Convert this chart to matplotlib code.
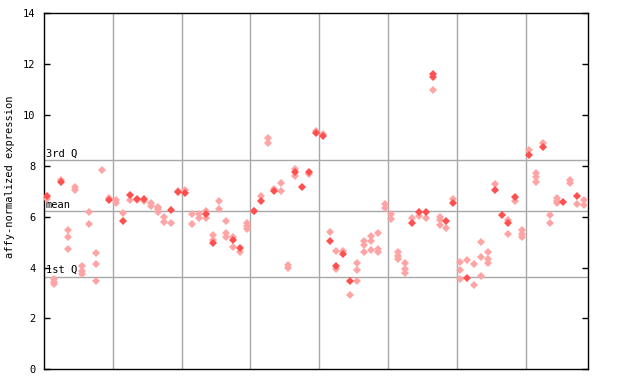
import matplotlib
matplotlib.use("Agg")
import matplotlib.pyplot as plt
import matplotlib.transforms as mtransforms

# ---- data (sample index, value) ----
solid_samples = [0, 2, 9, 11, 12, 13, 14, 18, 19, 20, 23, 24, 27, 28, 30, 31, 33, 36, 37, 38, 39, 40,
                 41, 42, 43, 44, 53, 54, 55, 56, 56, 58, 59, 61, 65, 66, 67, 68, 70, 72, 75, 77]
solid_values = [6.8, 7.38, 6.65, 5.84, 6.84, 6.71, 6.7, 6.25, 6.96, 6.92, 6.1, 4.96, 5.1, 4.76, 6.22, 6.63, 7.0, 7.75, 7.18, 7.77, 9.28, 9.16,
                5.06, 4.05, 4.53, 3.48, 5.74, 6.2, 6.2, 11.6, 11.5, 5.84, 6.55, 3.6, 7.05, 6.08, 5.75, 6.79, 8.44, 8.73, 6.59, 6.83]

light_samples = [0, 1, 1, 1, 2, 3, 3, 3, 4, 4, 5, 5, 5, 6, 6, 7, 7, 7, 8, 9, 10, 10, 11, 12, 13, 14, 15, 15,
                 16, 16, 16, 17, 17, 18, 19, 20, 21, 21, 22, 22, 23, 23, 24, 24, 25, 25, 26, 26, 26, 27, 27,
                 28, 29, 29, 29, 30, 31, 32, 32, 33, 34, 34, 35, 35, 36, 36, 38, 39, 40, 41, 42, 42, 43, 44,
                 45, 45, 45, 46, 46, 46, 47, 47, 47, 48, 48, 48, 49, 49, 50, 50, 51, 51, 51, 52, 52, 52,
                 53, 54, 55, 56, 57, 57, 57, 58, 59, 60, 60, 60, 61, 62, 62, 63, 63, 63, 64, 64, 64, 65,
                 67, 67, 68, 69, 69, 69, 70, 71, 71, 71, 72, 73, 73, 74, 74, 74, 76, 76, 77, 78, 78]
light_values = [6.7, 3.55, 3.45, 3.35, 7.45, 5.48, 5.19, 4.73, 7.15, 7.05, 4.07, 3.85, 3.75, 6.19, 5.71, 4.56, 4.14, 3.47, 7.83, 6.75, 6.65, 6.55, 6.13, 6.66, 6.65, 6.6, 6.55, 6.42,
                6.39, 6.29, 6.19, 5.99, 5.8, 5.74, 7.0, 7.05, 6.12, 5.7, 6.1, 5.94, 6.24, 5.94, 5.28, 5.08, 6.61, 6.32, 5.82, 5.35, 5.19, 5.2, 4.8,
                4.62, 5.74, 5.62, 5.5, 6.22, 6.8, 9.08, 8.89, 7.08, 7.31, 7.02, 4.12, 4.0, 7.88, 7.6, 7.68, 9.36, 9.24, 5.39, 4.64, 3.95, 4.64, 2.91,
                4.17, 3.89, 3.46, 5.03, 4.88, 4.6, 5.24, 5.03, 4.68, 5.35, 4.72, 4.62, 6.49, 6.35, 6.1, 5.9, 4.6, 4.45, 4.32, 4.17, 3.95, 3.77,
                5.94, 6.03, 5.94, 11.0, 6.0, 5.87, 5.67, 5.54, 6.7, 4.21, 3.89, 3.54, 4.3, 4.13, 3.31, 4.99, 4.4, 3.67, 4.6, 4.34, 4.19, 7.29,
                5.87, 5.34, 6.61, 5.48, 5.31, 5.19, 8.62, 7.71, 7.55, 7.38, 8.89, 6.06, 5.74, 6.72, 6.62, 6.53, 7.44, 7.31, 6.5, 6.66, 6.47]

n_samples = 79
group_size = 10
quartile_names = ["3rd Q", "mean", "1st Q"]
quartile_values = [8.22, 6.22, 3.64]
y_ticks = [0, 2, 4, 6, 8, 10, 12, 14]
y_label = "affy-normalized expression"

RED = "#ff5050"
LIGHT = "#ffa4a4"
GRID = "#a8a8a8"
MONO = "DejaVu Sans Mono"

fig = plt.figure(figsize=(6.4, 3.84), dpi=100)
ax = fig.add_axes([44 / 640, (384 - 369.3) / 384, (587.5 - 44) / 640, (369.3 - 13.3) / 384])

ax.set_xlim(0, n_samples)
ax.set_ylim(0, 14)

for g in range(group_size, n_samples, group_size):
    ax.axvline(g, color=GRID, lw=1.0, zorder=1)
for qv in quartile_values:
    ax.axhline(qv, color=GRID, lw=1.0, zorder=1)

trans = mtransforms.blended_transform_factory(ax.transAxes, ax.transData)
for name, qv in zip(quartile_names, quartile_values):
    ax.text(0.003, qv + 0.06, name, transform=trans, ha="left", va="bottom",
            fontsize=7.5, family=MONO, color="black", zorder=2)

ax.plot([s + 0.5 for s in light_samples], light_values, ls="none", marker="D",
        markersize=3.6, color=LIGHT, markeredgewidth=0, zorder=3)
ax.plot([s + 0.5 for s in solid_samples], solid_values, ls="none", marker="D",
        markersize=3.6, color=RED, markeredgewidth=0, zorder=4)

ax.set_xticks([])
ax.set_yticks(y_ticks)
ax.set_yticklabels([str(t) for t in y_ticks], family=MONO, fontsize=7.5)
ax.tick_params(axis="y", direction="in", length=4, width=1, right=True, pad=6)
for sp in ax.spines.values():
    sp.set_linewidth(1.0)
    sp.set_color("black")

fig.text(10 / 640, (384 - 176.7) / 384, y_label, rotation=90, ha="center", va="center",
         family=MONO, fontsize=7.5)

fig.savefig("out.png", dpi=100)
